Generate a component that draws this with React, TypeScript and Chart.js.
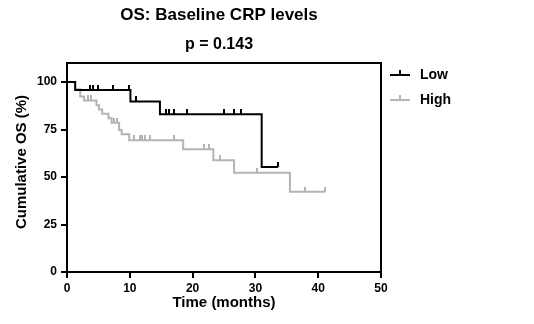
import React, { useEffect, useRef } from 'react';
import { Chart, registerables } from 'chart.js';

Chart.register(...registerables);

const TITLE = 'OS: Baseline CRP levels';
const SUBTITLE = 'p = 0.143';
const X_TITLE = 'Time (months)';
const Y_TITLE = 'Cumulative OS (%)';
const SERIES_NAMES = ['Low', 'High'];
const X_TICKS = [0, 10, 20, 30, 40, 50];
const Y_TICKS = [0, 25, 50, 75, 100];

// Low group: event times (months) and survival (%) after each step
const lowTimes = [0, 1.3, 10.1, 14.8, 31.0, 33.6];
const lowSurv = [100, 95.8, 89.8, 83.0, 55.3, 55.3];
const lowCensored = [3.7, 4.1, 5.0, 7.4, 9.9, 11.0, 15.8, 16.3, 17.0, 19.1, 25.0, 26.6, 27.7, 33.6];

// High group
const highTimes = [0, 1.3, 2.1, 2.7, 4.7, 5.1, 5.6, 6.6, 7.1, 8.3, 8.7, 9.9, 18.5, 23.3, 26.6, 35.5, 41.1];
const highSurv = [100, 96.2, 92.4, 90.3, 87.8, 85.5, 83.3, 80.9, 78.6, 74.7, 72.5, 69.3, 64.6, 58.8, 52.2, 42.2, 42.2];
const highCensored = [3.4, 3.8, 7.5, 7.9, 10.7, 11.6, 12.0, 12.4, 13.2, 17.0, 21.8, 22.6, 24.4, 30.2, 37.9, 41.1];

const LOW_COLOR = '#000000';
const HIGH_COLOR = '#b4b4b4';
const FONT = "'Liberation Sans', Arial, Helvetica, sans-serif";

function survAt(times: number[], surv: number[], t: number): number {
  let s = surv[0];
  for (let i = 0; i < times.length; i++) {
    if (times[i] <= t) s = surv[i];
  }
  return s;
}

function censorMark(color: string): HTMLCanvasElement {
  const c = document.createElement('canvas');
  c.width = 2;
  c.height = 10;
  const g = c.getContext('2d')!;
  g.fillStyle = color;
  g.fillRect(0, 0, 2, 5);
  return c;
}

const decorPlugin = {
  id: 'decor',
  afterDraw(chart: any) {
    const { ctx, chartArea } = chart;
    const { left, right, top, bottom } = chartArea;
    ctx.save();
    // frame top & right
    ctx.strokeStyle = '#000';
    ctx.lineWidth = 2;
    ctx.beginPath();
    ctx.moveTo(left - 1, top);
    ctx.lineTo(right, top);
    ctx.lineTo(right, bottom + 1);
    ctx.stroke();

    ctx.fillStyle = '#000';
    ctx.textAlign = 'center';
    ctx.textBaseline = 'middle';
    ctx.font = `bold 17px ${FONT}`;
    ctx.fillText(TITLE, 219, 15);
    ctx.font = `bold 16px ${FONT}`;
    ctx.fillText(SUBTITLE, 219, 45);

    ctx.font = `bold 15px ${FONT}`;
    ctx.fillText(X_TITLE, (left + right) / 2, 303);
    ctx.save();
    ctx.translate(22, 162);
    ctx.rotate(-Math.PI / 2);
    ctx.fillText(Y_TITLE, 0, 0);
    ctx.restore();

    // legend
    const colors = [LOW_COLOR, HIGH_COLOR];
    const ys = [75, 100];
    ctx.font = `bold 14px ${FONT}`;
    ctx.textAlign = 'left';
    SERIES_NAMES.forEach((name, i) => {
      ctx.strokeStyle = colors[i];
      ctx.lineWidth = 2;
      ctx.beginPath();
      ctx.moveTo(390, ys[i]);
      ctx.lineTo(410, ys[i]);
      ctx.moveTo(400, ys[i]);
      ctx.lineTo(400, ys[i] - 5);
      ctx.stroke();
      ctx.fillStyle = '#000';
      ctx.fillText(name, 420, ys[i]);
    });
    ctx.restore();
  },
};

export default function App() {
  const ref = useRef<HTMLCanvasElement>(null);
  useEffect(() => {
    if (!ref.current) return;
    const tickFont = { family: FONT, size: 12, weight: 'bold' as const };
    const chart = new Chart(ref.current, {
      type: 'line',
      data: {
        datasets: [
          {
            label: SERIES_NAMES[0],
            data: lowTimes.map((t, i) => ({ x: t, y: lowSurv[i] })),
            stepped: 'before',
            borderColor: LOW_COLOR,
            borderWidth: 2,
            pointRadius: 0,
            fill: false,
          },
          {
            label: SERIES_NAMES[1],
            data: highTimes.map((t, i) => ({ x: t, y: highSurv[i] })),
            stepped: 'before',
            borderColor: HIGH_COLOR,
            borderWidth: 2,
            pointRadius: 0,
            fill: false,
          },
          {
            type: 'scatter',
            label: SERIES_NAMES[0] + ' censored',
            data: lowCensored.map((t) => ({ x: t, y: survAt(lowTimes, lowSurv, t) })),
            pointStyle: censorMark(LOW_COLOR) as any,
            pointRadius: 5,
            showLine: false,
          },
          {
            type: 'scatter',
            label: SERIES_NAMES[1] + ' censored',
            data: highCensored.map((t) => ({ x: t, y: survAt(highTimes, highSurv, t) })),
            pointStyle: censorMark(HIGH_COLOR) as any,
            pointRadius: 5,
            showLine: false,
          },
        ] as any,
      },
      options: {
        animation: false,
        responsive: false,
        maintainAspectRatio: false,
        layout: { padding: { left: 0, top: 63, right: 153, bottom: 0 } },
        plugins: {
          legend: { display: false },
          title: { display: false },
          tooltip: { enabled: false },
        },
        scales: {
          x: {
            type: 'linear',
            min: 0,
            max: 50,
            afterBuildTicks: (s: any) => {
              s.ticks = X_TICKS.map((v) => ({ value: v }));
            },
            afterFit: (s: any) => {
              s.height = 52;
            },
            grid: { drawOnChartArea: false, drawTicks: true, tickLength: 6, color: '#000', lineWidth: 2 },
            border: { color: '#000', width: 2 },
            ticks: { color: '#000', font: tickFont, padding: 3, maxRotation: 0, autoSkip: false },
          },
          y: {
            type: 'linear',
            min: 0,
            max: 110,
            afterBuildTicks: (s: any) => {
              s.ticks = Y_TICKS.map((v) => ({ value: v }));
            },
            afterFit: (s: any) => {
              s.width = 67;
            },
            grid: { drawOnChartArea: false, drawTicks: true, tickLength: 6, color: '#000', lineWidth: 2 },
            border: { color: '#000', width: 2 },
            ticks: { color: '#000', font: tickFont, padding: 4, autoSkip: false },
          },
        },
      },
      plugins: [decorPlugin],
    });
    return () => chart.destroy();
  }, []);
  return (
    <div style={{ position: 'fixed', left: 0, top: 0, width: 534, height: 324, background: '#fff' }}>
      <canvas ref={ref} width={534} height={324} style={{ width: 534, height: 324 }} />
    </div>
  );
}
